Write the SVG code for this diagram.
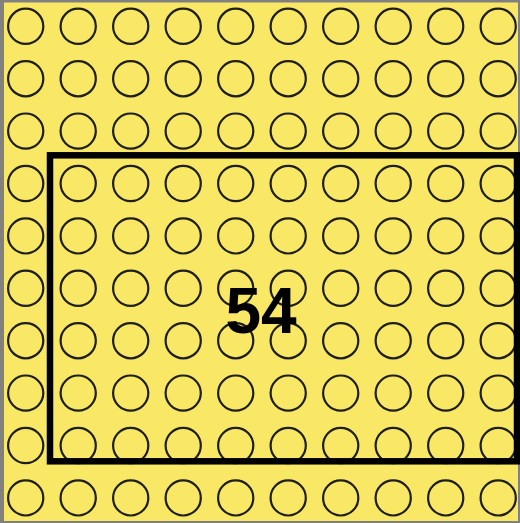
<svg xmlns="http://www.w3.org/2000/svg" xmlns:xlink="http://www.w3.org/1999/xlink" width="520" height="523" viewBox="0 0 520 523">
<style>
.c{fill:none;stroke:#1e1e1a;stroke-width:2.2}
.t{font-family:"Liberation Sans",Arial,sans-serif;font-weight:bold;font-size:64px;fill:#000;text-anchor:middle}
</style>
<defs>
<circle id="c" class="c" r="17.6"/>
<g id="row">
<use xlink:href="#c" x="25.7"/><use xlink:href="#c" x="78.2"/><use xlink:href="#c" x="130.7"/><use xlink:href="#c" x="183.2"/><use xlink:href="#c" x="235.7"/><use xlink:href="#c" x="288.2"/><use xlink:href="#c" x="340.7"/><use xlink:href="#c" x="393.2"/><use xlink:href="#c" x="445.7"/><use xlink:href="#c" x="498.2"/>
</g>
</defs>
<rect width="520" height="523" fill="#808080"/>
<rect x="4" y="2.5" width="514" height="518.5" fill="#f9e865"/>
<g id="grid">
<use xlink:href="#row" y="26.3"/><use xlink:href="#row" y="78.7"/><use xlink:href="#row" y="131.1"/><use xlink:href="#row" y="183.5"/><use xlink:href="#row" y="235.9"/><use xlink:href="#row" y="288.3"/><use xlink:href="#row" y="340.7"/><use xlink:href="#row" y="393.1"/><use xlink:href="#row" y="445.5"/><use xlink:href="#row" y="497.9"/>
</g>
<rect id="frame" x="50" y="155.3" width="467" height="306" fill="none" stroke="#000" stroke-width="6.5"/>
<text class="t" x="261" y="333">54</text>
</svg>
